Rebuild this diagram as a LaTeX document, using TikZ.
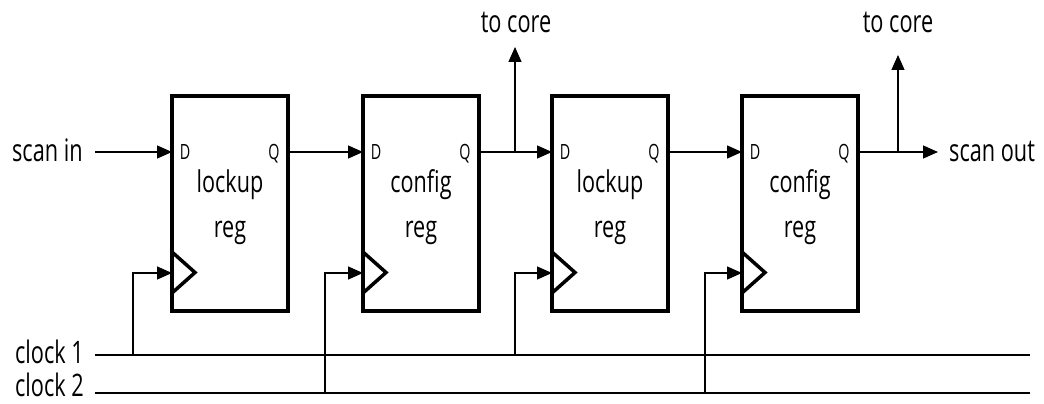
\documentclass[tikz,border=0pt]{standalone}
\usepackage{fontspec}
\setmainfont{Open Sans}
\usetikzlibrary{arrows.meta}
\tikzset{
  reg/.style={draw, line width=3.5pt, minimum width=116pt, minimum height=215pt, inner sep=0pt},
  wire/.style={line width=1.3pt},
  arr/.style={wire, -{Triangle[length=15pt,width=13pt]}},
  pin/.style={font=\fontsize{21}{24}\selectfont, inner sep=0pt, xscale=0.68, anchor=base},
  body/.style={font=\fontsize{30}{36}\selectfont, inner sep=0pt, xscale=0.72, anchor=base},
  lbl/.style={font=\fontsize{31}{36}\selectfont, inner sep=0pt, xscale=0.7}
}
\begin{document}
\begin{tikzpicture}[x=1pt,y=-1pt]
\useasboundingbox (0,0) rectangle (1044,404);
% boxes
\foreach \n/\L/\t in {1/172/lockup, 2/363/config, 3/552/lockup, 4/742/config}{
  \node[reg] (b\n) at (\L+58,203.5) {};
  \node[body] (t\n) at (\L+58,192) {\t};
  \node[body] (r\n) at (\L+58,237) {reg};
  \node[pin] (D\n) at (\L+13,159) {D};
  \node[pin] (Q\n) at (\L+102,159) {Q};
  \coordinate (d\n) at (\L,152);
  \coordinate (q\n) at (\L+116,152);
  \coordinate (p\n) at (\L,273);
  \draw[line width=3.5pt, line join=miter] (\L,252) -- (\L+23,272.5) -- (\L,293);
}
% labels
\node[lbl, anchor=base west] (sin) at (12,161) {scan in};
\node[lbl, anchor=base west] (sout) at (949,161) {scan out};
\node[lbl, anchor=base] (tc1) at (516,33) {to core};
\node[lbl, anchor=base] (tc2) at (898,33) {to core};
\node[lbl, anchor=base west] (ck1) at (15,363) {clock 1};
\node[lbl, anchor=base west] (ck2) at (15,396) {clock 2};
% data path
\coordinate (sinE) at (95,152);
\draw[arr] (sinE) -- (d1);
\draw[arr] (q1) -- (d2);
\draw[arr] (q2) -- (d3);
\draw[arr] (q3) -- (d4);
\coordinate (soutE) at (938,152);
\draw[arr] (q4) -- (soutE);
\coordinate (j1) at (515,152);
\coordinate (u1) at (515,47);
\draw[arr] (j1) -- (u1);
\coordinate (j2) at (898,152);
\coordinate (u2) at (898,55);
\draw[arr] (j2) -- (u2);
% clock lines
\coordinate (c1s) at (95,355); \coordinate (c1e) at (1030,355);
\coordinate (c2s) at (95,393); \coordinate (c2e) at (1030,393);
\draw[wire] (c1s) -- (c1e);
\draw[wire] (c2s) -- (c2e);
\coordinate (k1) at (133,355);
\coordinate (k2) at (325,393);
\coordinate (k3) at (515,355);
\coordinate (k4) at (705,393);
\draw[arr] (k1) |- (p1);
\draw[arr] (k2) |- (p2);
\draw[arr] (k3) |- (p3);
\draw[arr] (k4) |- (p4);
\end{tikzpicture}
\end{document}
